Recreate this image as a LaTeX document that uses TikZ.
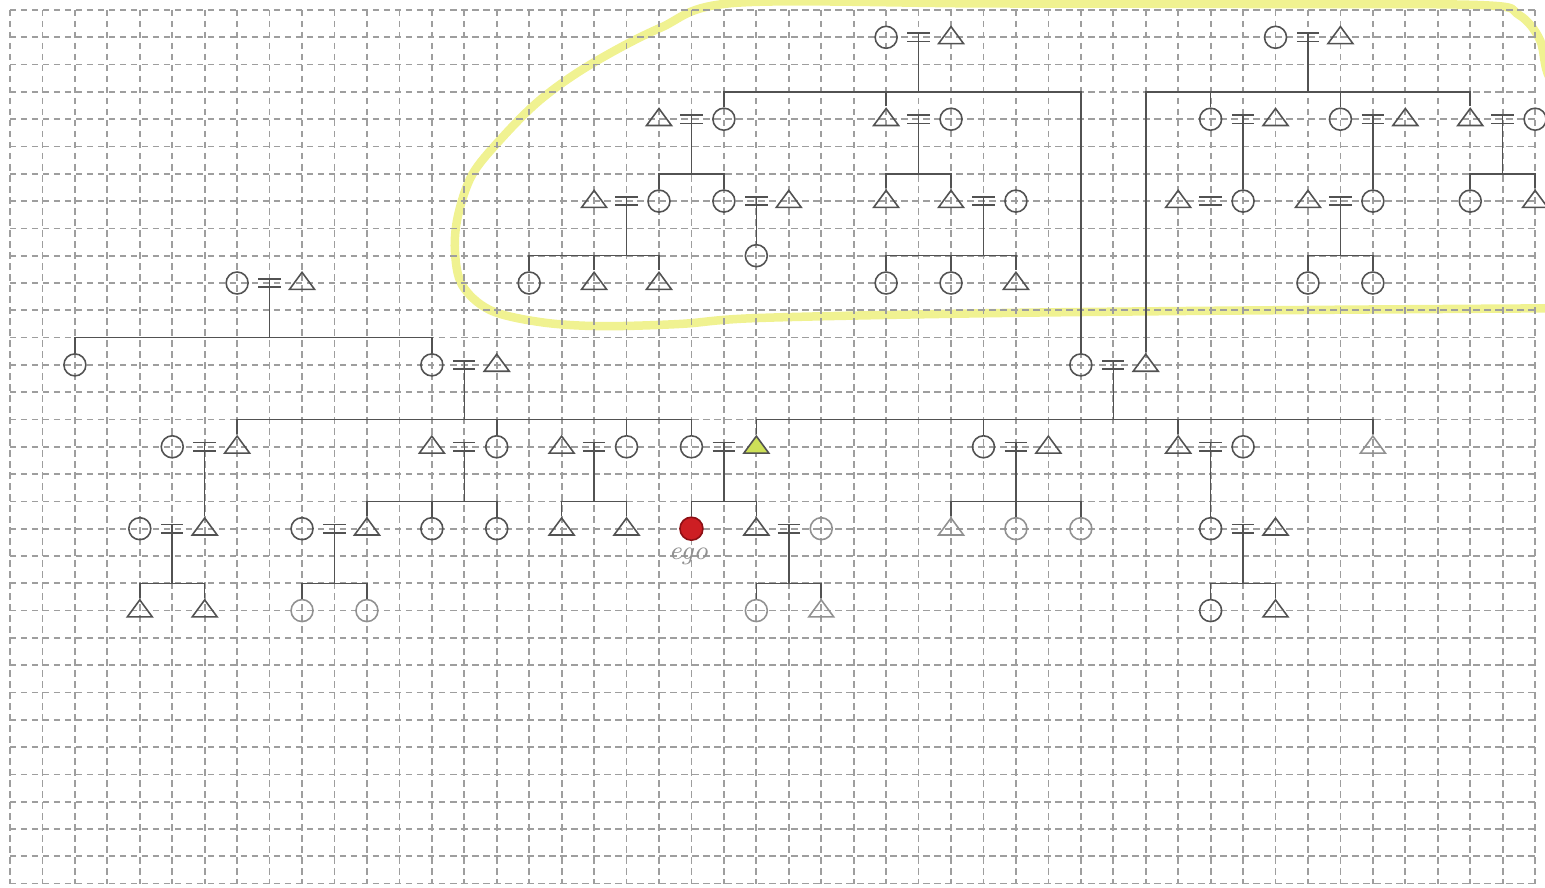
\documentclass[tikz,border=0pt]{standalone}
\usetikzlibrary{positioning,shapes.geometric}
\definecolor{pencil}{RGB}{82,82,82}
\definecolor{faint}{RGB}{145,145,145}
\definecolor{gridgray}{RGB}{158,158,158}
\definecolor{hiyel}{RGB}{240,242,145}
\definecolor{fayel}{RGB}{205,224,88}
\definecolor{egored}{RGB}{205,30,35}
\definecolor{egodark}{RGB}{140,15,20}

\begin{document}
\begin{tikzpicture}[x=0.3245cm,y=-0.273cm]
\tikzset{
  FE/.style={draw=pencil,circle,line width=0.45pt,minimum size=0.22cm,inner sep=0pt},
  MA/.style={draw=pencil,isosceles triangle,shape border rotate=90,isosceles triangle stretches,line width=0.45pt,minimum width=0.25cm,minimum height=0.17cm,inner sep=0pt},
  LN/.style={draw=pencil,line width=0.45pt},
  EQ/.style={inner sep=0pt,minimum width=0.21cm,minimum height=0.068cm,
    append after command={(\tikzlastnode.north west) edge[LN] (\tikzlastnode.north east)
                          (\tikzlastnode.south west) edge[LN] (\tikzlastnode.south east)}},
  FT/.style={draw=faint},
  GR/.style={gridgray,line width=0.5pt,dash pattern=on 0.065cm off 0.045cm},
  HL/.style={hiyel,line width=0.085cm,line cap=round,line join=round},
  EG/.style={font=\fontsize{7.5}{8}\selectfont\itshape,text=faint,inner sep=0.5pt},
}
\clip(-0.308,-0.366)rectangle(47.304,32.161);

\draw[HL] plot[smooth,tension=0.55] coordinates{(48.5,4.0)(47.45,2.5)(47.15,1.1)(46.5,0.18)(45.3,-0.18)(38,-0.22)(30,-0.24)
  (22.34,-0.26)(20.03,0.66)(17.87,2.01)(16.33,3.30)(15.10,4.76)(14.24,6.04)(13.81,7.51)(13.71,8.79)(13.93,10.07)
  (14.79,10.99)(16.33,11.43)(18.18,11.58)(20.65,11.50)(23.11,11.28)(30.51,11.10)(39.75,10.99)(48.5,10.92)};

\foreach \c in {0,...,47} \draw[GR](\c,0)--(\c,32);
\foreach \r in {0,...,32} \draw[GR](0,\r)--(47,\r);

\node[FE](p27r1)  at (27, 1){};
\node[EQ](w28r1)  at (28, 1){};
\node[MA](p29r1)  at (29, 1){};
\node[MA](p20r4)  at (20, 4){};
\node[EQ](w21r4)  at (21, 4){};
\node[FE](p22r4)  at (22, 4){};
\node[MA](p27r4)  at (27, 4){};
\node[EQ](w28r4)  at (28, 4){};
\node[FE](p29r4)  at (29, 4){};
\node[MA](p18r7)  at (18, 7){};
\node[EQ](w19r7)  at (19, 7){};
\node[FE](p20r7)  at (20, 7){};
\node[FE](p22r7)  at (22, 7){};
\node[EQ](w23r7)  at (23, 7){};
\node[MA](p24r7)  at (24, 7){};
\node[MA](p27r7)  at (27, 7){};
\node[MA](p29r7)  at (29, 7){};
\node[EQ](w30r7)  at (30, 7){};
\node[FE](p31r7)  at (31, 7){};
\node[FE](p23r9)  at (23, 9){};
\node[FE](p16r10) at (16,10){};
\node[MA](p18r10) at (18,10){};
\node[MA](p20r10) at (20,10){};
\node[FE](p27r10) at (27,10){};
\node[FE](p29r10) at (29,10){};
\node[MA](p31r10) at (31,10){};

\node[FE](p39r1)  at (39, 1){};
\node[EQ](w40r1)  at (40, 1){};
\node[MA](p41r1)  at (41, 1){};
\node[FE](p37r4)  at (37, 4){};
\node[EQ](w38r4)  at (38, 4){};
\node[MA](p39r4)  at (39, 4){};
\node[FE](p41r4)  at (41, 4){};
\node[EQ](w42r4)  at (42, 4){};
\node[MA](p43r4)  at (43, 4){};
\node[MA](p45r4)  at (45, 4){};
\node[EQ](w46r4)  at (46, 4){};
\node[FE](p47r4)  at (47, 4){};
\node[MA](p36r7)  at (36, 7){};
\node[EQ](w37r7)  at (37, 7){};
\node[FE](p38r7)  at (38, 7){};
\node[MA](p40r7)  at (40, 7){};
\node[EQ](w41r7)  at (41, 7){};
\node[FE](p42r7)  at (42, 7){};
\node[FE](p45r7)  at (45, 7){};
\node[MA](p47r7)  at (47, 7){};
\node[FE](p40r10) at (40,10){};
\node[FE](p42r10) at (42,10){};

\node[FE](p7r10)  at ( 7,10){};
\node[EQ](w8r10)  at ( 8,10){};
\node[MA](p9r10)  at ( 9,10){};
\node[FE](p2r13)  at ( 2,13){};
\node[FE](p13r13) at (13,13){};
\node[EQ](w14r13) at (14,13){};
\node[MA](p15r13) at (15,13){};
\node[FE](p33r13) at (33,13){};
\node[EQ](w34r13) at (34,13){};
\node[MA](p35r13) at (35,13){};

\node[FE](p5r16)  at ( 5,16){};
\node[EQ](w6r16)  at ( 6,16){};
\node[MA](p7r16)  at ( 7,16){};
\node[MA](p13r16) at (13,16){};
\node[EQ](w14r16) at (14,16){};
\node[FE](p15r16) at (15,16){};
\node[MA](p17r16) at (17,16){};
\node[EQ](w18r16) at (18,16){};
\node[FE](p19r16) at (19,16){};
\node[FE](mo)     at (21,16){};
\node[EQ](w22r16) at (22,16){};
\node[MA,fill=fayel](fa) at (23,16){};
\node[FE](p30r16) at (30,16){};
\node[EQ](w31r16) at (31,16){};
\node[MA](p32r16) at (32,16){};
\node[MA](p36r16) at (36,16){};
\node[EQ](w37r16) at (37,16){};
\node[FE](p38r16) at (38,16){};
\node[MA,FT](p42r16) at (42,16){};

\node[FE](p4r19)  at ( 4,19){};
\node[EQ](w5r19)  at ( 5,19){};
\node[MA](p6r19)  at ( 6,19){};
\node[FE](p9r19)  at ( 9,19){};
\node[EQ](w10r19) at (10,19){};
\node[MA](p11r19) at (11,19){};
\node[FE](p13r19) at (13,19){};
\node[FE](p15r19) at (15,19){};
\node[MA](p17r19) at (17,19){};
\node[MA](p19r19) at (19,19){};
\node[FE,draw=egodark,fill=egored,minimum size=0.23cm](ego) at (21,19){};
\node[MA](p23r19) at (23,19){};
\node[EQ](w24r19) at (24,19){};
\node[FE,FT](p25r19) at (25,19){};
\node[MA,FT](p29r19) at (29,19){};
\node[FE,FT](p31r19) at (31,19){};
\node[FE,FT](p33r19) at (33,19){};
\node[FE](p37r19) at (37,19){};
\node[EQ](w38r19) at (38,19){};
\node[MA](p39r19) at (39,19){};

\node[MA](p4r22)  at ( 4,22){};
\node[MA](p6r22)  at ( 6,22){};
\node[FE,FT](p9r22)  at ( 9,22){};
\node[FE,FT](p11r22) at (11,22){};
\node[FE,FT](p23r22) at (23,22){};
\node[MA,FT](p25r22) at (25,22){};
\node[FE](p37r22) at (37,22){};
\node[MA](p39r22) at (39,22){};

\node[EG,below=0.04cm of ego,xshift=-0.03cm](egotxt){ego};

\coordinate(b28r3)  at (28, 3);
\coordinate(b21r6)  at (21, 6);
\coordinate(b28r6)  at (28, 6);
\coordinate(b19r9)  at (19, 9);
\coordinate(b30r9)  at (30, 9);
\coordinate(b40r3)  at (40, 3);
\coordinate(b46r6)  at (46, 6);
\coordinate(b41r9)  at (41, 9);
\coordinate(b8r12)  at ( 8,12);
\coordinate(b14r15) at (14,15);
\coordinate(b34r15) at (34,15);
\coordinate(b14r18) at (14,18);
\coordinate(b18r18) at (18,18);
\coordinate(b22r18) at (22,18);
\coordinate(b31r18) at (31,18);
\coordinate(b5r21)  at ( 5,21);
\coordinate(b10r21) at (10,21);
\coordinate(b24r21) at (24,21);
\coordinate(b38r21) at (38,21);

\draw[LN](w28r1.north)--(b28r3);
\draw[LN](p22r4.north)|-(b28r3)-|(p33r13.north);
\draw[LN](p27r4.north)--(p27r4|-b28r3);
\draw[LN](w21r4.north)--(b21r6);
\draw[LN](p20r7.north)|-(b21r6)-|(p22r7.north);
\draw[LN](w28r4.north)--(b28r6);
\draw[LN](p27r7.north)|-(b28r6)-|(p29r7.north);
\draw[LN](w19r7.north)--(b19r9);
\draw[LN](p16r10.north)|-(b19r9)-|(p20r10.north);
\draw[LN](p18r10.north)--(p18r10|-b19r9);
\draw[LN](w23r7.north)--(p23r9.north);
\draw[LN](w30r7.north)--(b30r9);
\draw[LN](p27r10.north)|-(b30r9)-|(p31r10.north);
\draw[LN](p29r10.north)--(p29r10|-b30r9);

\draw[LN](w40r1.north)--(b40r3);
\draw[LN](p35r13.north)|-(b40r3)-|(p45r4.north);
\draw[LN](p37r4.north)--(p37r4|-b40r3);
\draw[LN](p41r4.north)--(p41r4|-b40r3);
\draw[LN](w38r4.north)--(p38r7.north);
\draw[LN](w42r4.north)--(p42r7.north);
\draw[LN](w46r4.north)--(b46r6);
\draw[LN](p45r7.north)|-(b46r6)-|(p47r7.north);
\draw[LN](w41r7.north)--(b41r9);
\draw[LN](p40r10.north)|-(b41r9)-|(p42r10.north);

\draw[LN](w8r10.north)--(b8r12);
\draw[LN](p2r13.north)|-(b8r12)-|(p13r13.north);
\draw[LN](w14r13.north)--(b14r15);
\draw[LN](p7r16.north)|-(b14r15)-|(mo.north);
\draw[LN](p15r16.north)--(p15r16|-b14r15);
\draw[LN](p19r16.north)--(p19r16|-b14r15);
\draw[LN](w34r13.north)--(b34r15);
\draw[LN](fa.north)|-(b34r15)-|(p42r16.north);
\draw[LN](p30r16.north)--(p30r16|-b34r15);
\draw[LN](p36r16.north)--(p36r16|-b34r15);

\draw[LN](w6r16.north)--(p6r19.north);
\draw[LN](w14r16.north)--(b14r18);
\draw[LN](p11r19.north)|-(b14r18)-|(p15r19.north);
\draw[LN](p13r19.north)--(p13r19|-b14r18);
\draw[LN](w18r16.north)--(b18r18);
\draw[LN](p17r19.north)|-(b18r18)-|(p19r19.north);
\draw[LN](w22r16.north)--(b22r18);
\draw[LN](ego.north)|-(b22r18)-|(p23r19.north);
\draw[LN](w31r16.north)--(b31r18);
\draw[LN](p29r19.north)|-(b31r18)-|(p33r19.north);
\draw[LN](p31r19.north)--(p31r19|-b31r18);
\draw[LN](w37r16.north)--(p37r19.north);

\draw[LN](w5r19.north)--(b5r21);
\draw[LN](p4r22.north)|-(b5r21)-|(p6r22.north);
\draw[LN](w10r19.north)--(b10r21);
\draw[LN](p9r22.north)|-(b10r21)-|(p11r22.north);
\draw[LN](w24r19.north)--(b24r21);
\draw[LN](p23r22.north)|-(b24r21)-|(p25r22.north);
\draw[LN](w38r19.north)--(b38r21);
\draw[LN](p37r22.north)|-(b38r21)-|(p39r22.north);

\end{tikzpicture}
\end{document}
